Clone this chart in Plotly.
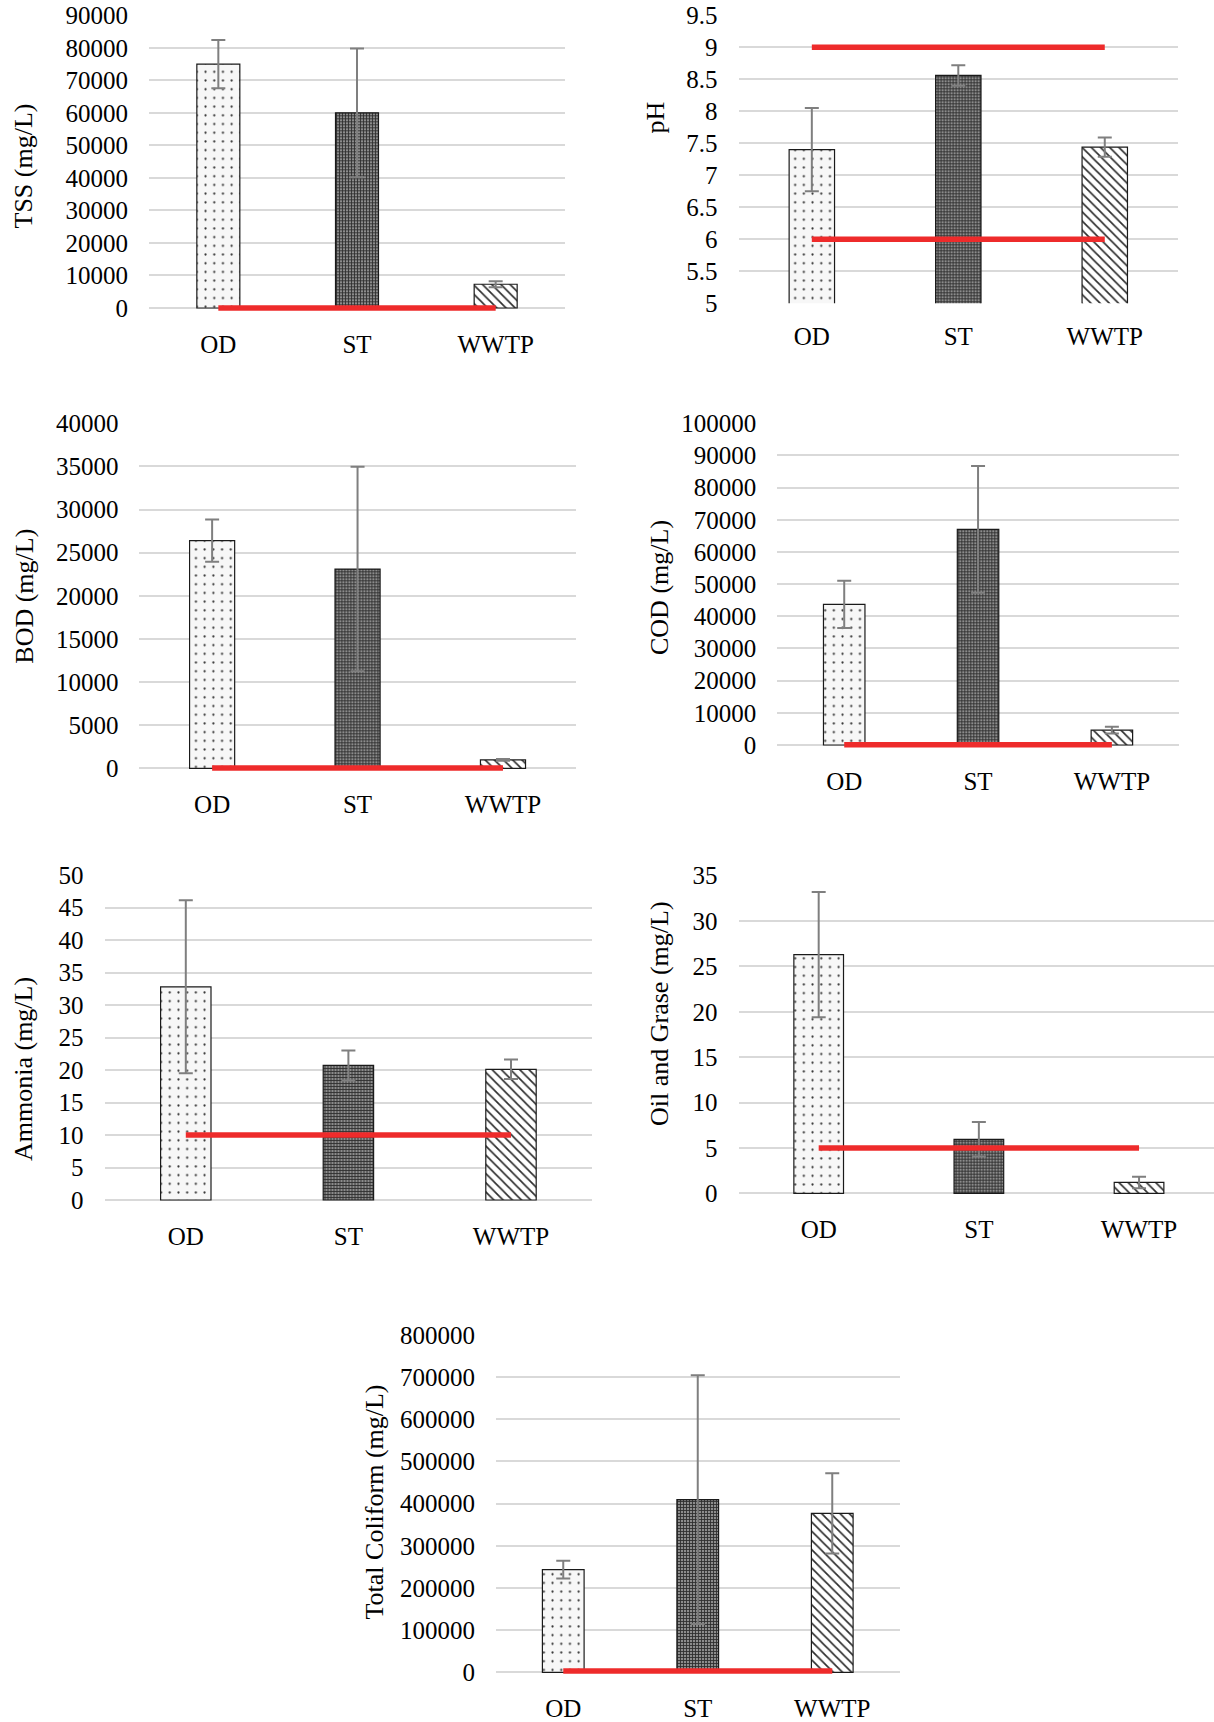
import plotly.graph_objects as go

# ---------------- data ----------------
categories = ["OD", "ST", "WWTP"]

tss_mean = [75000, 60000, 7300]
tss_sd = [7400, 19800, 900]
tss_limit = [30, 30, 30]

ph_mean = [7.40, 8.56, 7.44]
ph_sd = [0.65, 0.16, 0.15]
ph_limit_max = [9, 9, 9]
ph_limit_min = [6, 6, 6]
ph_ticks = [5, 5.5, 6, 6.5, 7, 7.5, 8, 8.5, 9, 9.5]
ph_ticklabels = ["5", "5.5", "6", "6.5", "7", "7.5", "8", "8.5", "9", "9.5"]

bod_mean = [26400, 23100, 970]
bod_sd = [2450, 11850, 100]
bod_limit = [30, 30, 30]

cod_mean = [43700, 67000, 4600]
cod_sd = [7350, 19700, 1050]
cod_limit = [100, 100, 100]

ammonia_mean = [32.8, 20.7, 20.1]
ammonia_sd = [13.3, 2.3, 1.5]
ammonia_limit = [10, 10, 10]

oil_mean = [26.3, 5.95, 1.2]
oil_sd = [6.9, 1.9, 0.63]
oil_limit = [5, 5, 5]

coliform_mean = [243500, 409500, 377000]
coliform_sd = [21000, 295000, 95000]
coliform_limit = [3000, 3000, 3000]

# ---------------- styling ----------------
W, H = 1214, 1722
FONT = "Liberation Serif, Times New Roman, serif"
RED = "#ee2b2b"
GRID = "#d9d9d9"
ERR = "#7f7f7f"


def fx(px):
    return min(max(px / W, 0.0), 1.0)


def fy(px):
    return min(max(1 - px / H, 0.0), 1.0)


pattern = dict(
    shape=[".", "+", "\\"],
    fgcolor=["#333333", "#2e2e2e", "#2e2e2e"],
    bgcolor=["#f7f7f7", "#8c8c8c", "#ffffff"],
    size=[8.7, 3, 6.5],
    solidity=[0.05, 0.5, 0.26],
    fillmode="replace",
)

panels = [
    dict(y=tss_mean, e=tss_sd, lims=[tss_limit], title="TSS (mg/L)",
         x0=149, x1=565, yt=15.3, yb=308, ymin=0, ymax=90000, dtick=10000,
         tx=23, ty=166.5, pad=3),
    dict(y=ph_mean, e=ph_sd, lims=[ph_limit_max, ph_limit_min], title="pH",
         x0=738.6, x1=1178, yt=15.3, yb=303.3, ymin=5, ymax=9.5, dtick=0.5,
         tx=655, ty=117.5, pad=0, tickvals=ph_ticks, ticktext=ph_ticklabels),
    dict(y=bod_mean, e=bod_sd, lims=[bod_limit], title="BOD (mg/L)",
         x0=139.4, x1=575.7, yt=423.3, yb=768.3, ymin=0, ymax=40000, dtick=5000,
         tx=25, ty=596.7, pad=3),
    dict(y=cod_mean, e=cod_sd, lims=[cod_limit], title="COD (mg/L)",
         x0=777.3, x1=1178.8, yt=423.3, yb=745, ymin=0, ymax=100000, dtick=10000,
         tx=659, ty=588, pad=3),
    dict(y=ammonia_mean, e=ammonia_sd, lims=[ammonia_limit], title="Ammonia (mg/L)",
         x0=104.5, x1=592.3, yt=875, yb=1200, ymin=0, ymax=50, dtick=5,
         tx=23, ty=1069, pad=3),
    dict(y=oil_mean, e=oil_sd, lims=[oil_limit], title="Oil and Grase (mg/L)",
         x0=738.6, x1=1214, yt=875.7, yb=1193.3, ymin=0, ymax=35, dtick=5,
         tx=659, ty=1014, pad=3, xr=[-0.5, 2.468]),
    dict(y=coliform_mean, e=coliform_sd, lims=[coliform_limit], title="Total Coliform (mg/L)",
         x0=496, x1=899.5, yt=1335, yb=1672.3, ymin=0, ymax=800000, dtick=100000,
         tx=374, ty=1502.5, pad=3),
]

fig = go.Figure()
annotations = []

for i, p in enumerate(panels):
    n = "" if i == 0 else str(i + 1)
    xa, ya = "x" + n, "y" + n
    fig.add_trace(go.Bar(
        x=categories, y=p["y"], xaxis=xa, yaxis=ya, width=0.31,
        marker=dict(pattern=pattern, line=dict(color="#1a1a1a", width=1.2)),
        error_y=dict(type="data", array=p["e"], visible=True,
                     color=ERR, thickness=2, width=7),
        showlegend=False, hoverinfo="x+y",
    ))
    for lim in p["lims"]:
        fig.add_trace(go.Scatter(
            x=categories, y=lim, xaxis=xa, yaxis=ya, mode="lines",
            line=dict(color=RED, width=5.5), showlegend=False, hoverinfo="skip",
        ))

    span_px = p["yb"] - p["yt"]
    per_px = (p["ymax"] - p["ymin"]) / span_px
    rmin = p["ymin"] - p["pad"] * per_px
    ybot = p["yb"] + p["pad"]

    xkey = "xaxis" + n
    ykey = "yaxis" + n
    fig.layout[xkey] = dict(
        domain=[fx(p["x0"]), fx(p["x1"])],
        anchor=ya, range=p.get("xr", [-0.5, 2.5]), type="category",
        showgrid=False, showline=False, zeroline=False, ticks="",
        automargin=False, ticklabelstandoff=16, ticklabeloverflow="allow",
        tickfont=dict(family=FONT, size=25, color="black"),
    )
    yax = dict(
        domain=[fy(ybot), fy(p["yt"])],
        anchor=xa, range=[rmin, p["ymax"] * 1.0000001],
        tick0=p["ymin"], dtick=p["dtick"], tickformat="d",
        showgrid=True, gridcolor=GRID, gridwidth=1.6,
        showline=False, zeroline=False, ticks="",
        automargin=False, ticklabelstandoff=20, ticklabeloverflow="allow",
        tickfont=dict(family=FONT, size=25, color="black"),
    )
    if "tickvals" in p:
        yax.update(tickmode="array", tickvals=p["tickvals"], ticktext=p["ticktext"])
        yax.pop("tickformat")
    fig.layout[ykey] = yax

    annotations.append(dict(
        text=p["title"], xref="paper", yref="paper",
        x=fx(p["tx"]), y=fy(p["ty"]), xanchor="center", yanchor="middle",
        textangle=-90, showarrow=False,
        font=dict(family=FONT, size=26, color="black"),
    ))

fig.update_layout(
    width=W, height=H, autosize=False,
    margin=dict(l=0, r=0, t=0, b=0, pad=0, autoexpand=False),
    paper_bgcolor="white", plot_bgcolor="white",
    annotations=annotations, bargap=0.69,
    font=dict(family=FONT, color="black"),
)

fig.write_html(
    "out.html",
    config={"displayModeBar": False},
    post_script="document.body.style.margin='0px';document.body.style.overflow='hidden';",
)
